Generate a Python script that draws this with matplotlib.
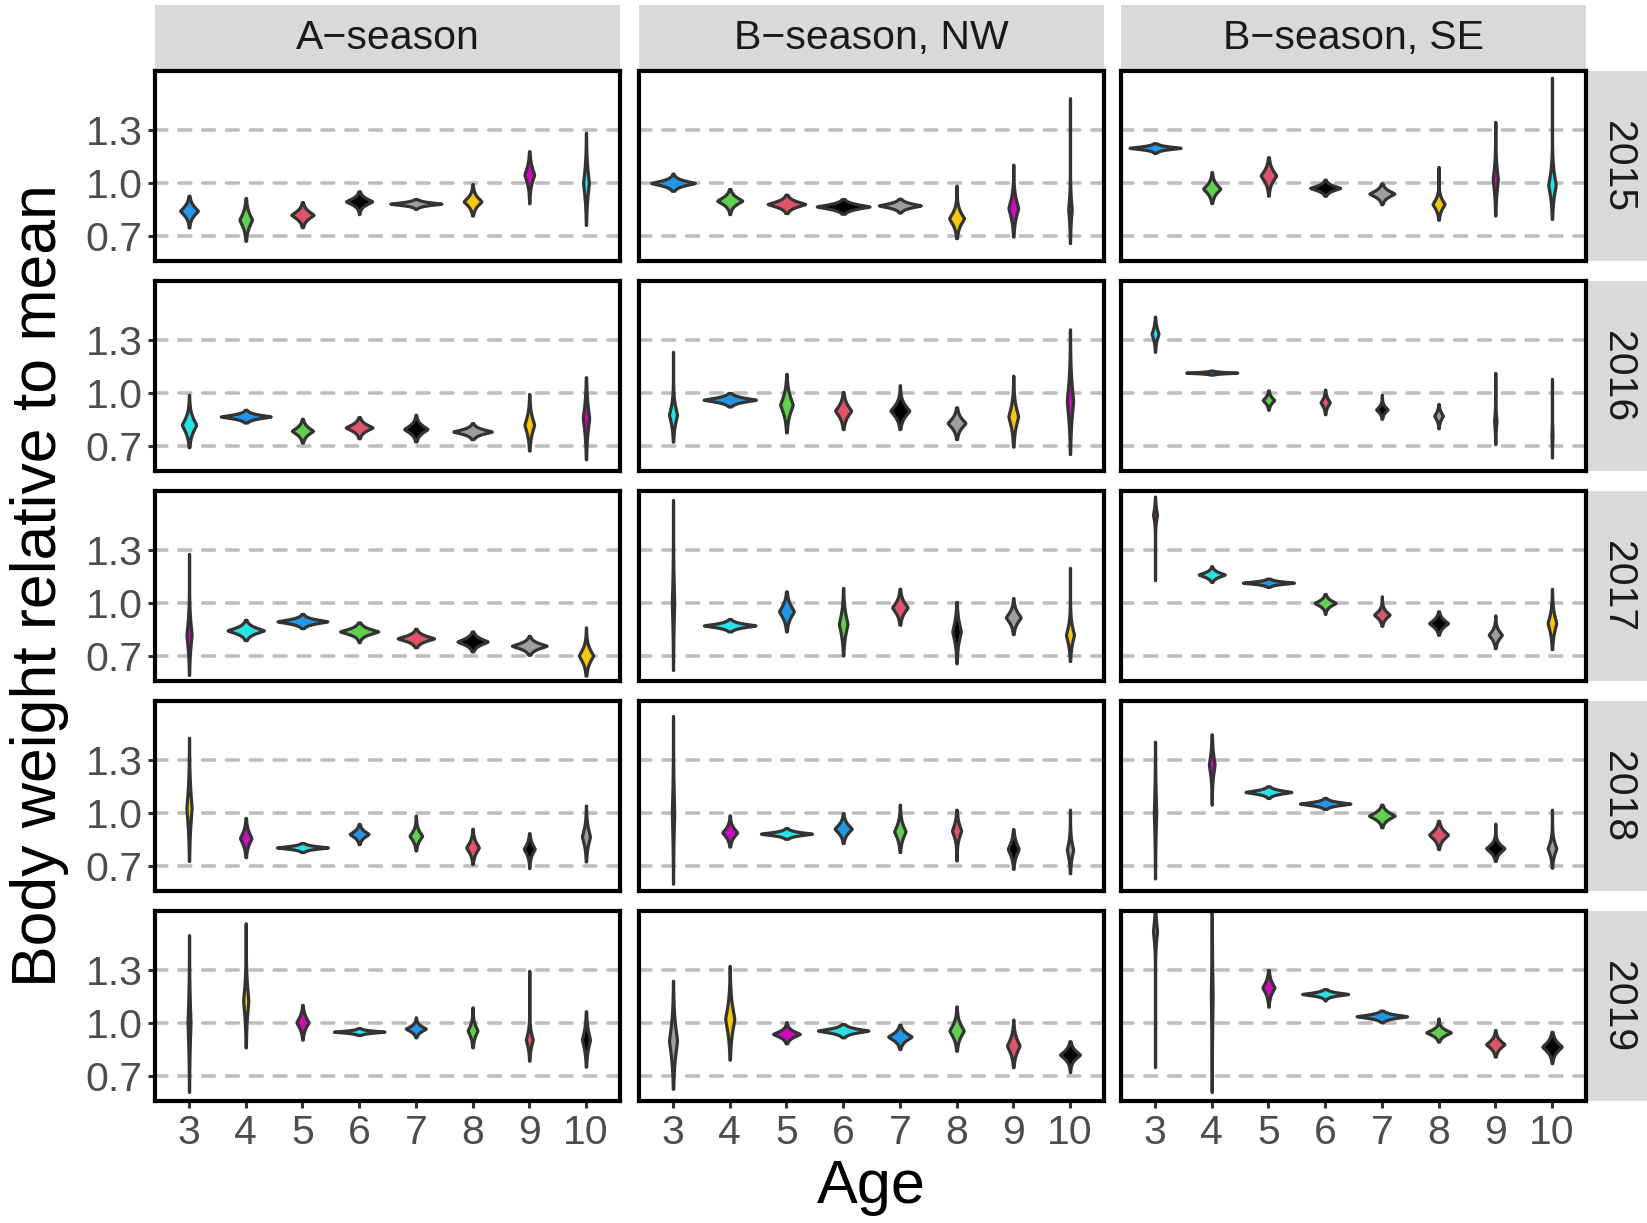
import numpy as np
import matplotlib
matplotlib.use("Agg")
import matplotlib.pyplot as plt
from matplotlib.patches import Rectangle

plt.rcParams["font.family"] = ["Liberation Sans", "DejaVu Sans"]

# ---------------- data ----------------
years = [2015, 2016, 2017, 2018, 2019]
seasons = ["A\u2212season", "B\u2212season, NW", "B\u2212season, SE"]
ages = [3, 4, 5, 6, 7, 8, 9, 10]
yticks = [0.7, 1.0, 1.3]
ytick_labels = ["0.7", "1.0", "1.3"]
# R default palette; colour index = (year - age - 2009) % 8  (cohort)
cohort_palette = ["#000000", "#DF536B", "#61D04F", "#2297E6",
                  "#28E2E5", "#CD0BBC", "#F5C710", "#9E9E9E"]

# A-season: rows = years 2015..2019, columns = ages 3..10
A_mid = [[0.843, 0.792, 0.820, 0.896, 0.883, 0.896, 1.047, 1.000],
         [0.820, 0.867, 0.786, 0.805, 0.796, 0.782, 0.820, 0.858],
         [0.820, 0.845, 0.896, 0.839, 0.800, 0.782, 0.758, 0.703],
         [1.028, 0.858, 0.805, 0.881, 0.871, 0.805, 0.797, 0.867],
         [1.000, 1.126, 1.004, 0.951, 0.968, 0.957, 0.906, 0.906]]
A_lo = [[0.748, 0.673, 0.750, 0.824, 0.854, 0.816, 0.885, 0.763],
        [0.693, 0.833, 0.720, 0.744, 0.726, 0.739, 0.674, 0.625],
        [0.593, 0.790, 0.858, 0.778, 0.750, 0.726, 0.707, 0.589],
        [0.729, 0.750, 0.779, 0.824, 0.788, 0.712, 0.688, 0.726],
        [0.610, 0.862, 0.906, 0.932, 0.919, 0.862, 0.787, 0.753]]
A_hi = [[0.928, 0.915, 0.892, 0.953, 0.909, 0.994, 1.180, 1.284],
        [0.990, 0.905, 0.854, 0.864, 0.877, 0.830, 0.994, 1.089],
        [1.278, 0.905, 0.938, 0.890, 0.854, 0.839, 0.814, 0.862],
        [1.426, 0.972, 0.830, 0.938, 0.985, 0.911, 0.886, 1.042],
        [1.497, 1.564, 1.102, 0.972, 1.032, 1.089, 1.296, 1.066]]
A_width = [[0.36, 0.27, 0.44, 0.51, 0.95, 0.36, 0.22, 0.15],
           [0.30, 0.93, 0.42, 0.52, 0.46, 0.73, 0.22, 0.16],
           [0.14, 0.69, 0.93, 0.72, 0.69, 0.58, 0.66, 0.30],
           [0.14, 0.25, 0.95, 0.38, 0.27, 0.27, 0.24, 0.19],
           [0.10, 0.14, 0.26, 0.94, 0.40, 0.22, 0.17, 0.19]]

# B-season, NW
NW_mid = [[1.000, 0.900, 0.881, 0.867, 0.873, 0.800, 0.858, 0.850],
          [0.877, 0.962, 0.934, 0.900, 0.900, 0.830, 0.867, 0.953],
          [1.000, 0.873, 0.953, 0.881, 0.975, 0.839, 0.919, 0.820],
          [1.000, 0.890, 0.883, 0.911, 0.896, 0.900, 0.797, 0.792],
          [0.900, 1.023, 0.938, 0.957, 0.923, 0.957, 0.872, 0.821]]
NW_lo = [[0.956, 0.824, 0.830, 0.826, 0.833, 0.688, 0.697, 0.660],
         [0.725, 0.924, 0.777, 0.796, 0.796, 0.739, 0.697, 0.655],
         [0.621, 0.839, 0.839, 0.703, 0.877, 0.659, 0.824, 0.672],
         [0.600, 0.810, 0.854, 0.830, 0.779, 0.731, 0.684, 0.659],
         [0.628, 0.793, 0.885, 0.919, 0.853, 0.843, 0.750, 0.722]]
NW_hi = [[1.053, 0.966, 0.934, 0.909, 0.911, 0.985, 1.104, 1.480],
         [1.233, 1.000, 1.108, 1.006, 1.044, 0.919, 1.098, 1.360],
         [1.583, 0.909, 1.066, 1.085, 1.081, 1.006, 1.028, 1.199],
         [1.549, 0.987, 0.915, 1.000, 1.047, 1.019, 0.909, 1.019],
         [1.239, 1.323, 1.004, 0.994, 0.990, 1.094, 1.019, 0.897]]
NW_width = [[0.82, 0.49, 0.71, 0.98, 0.79, 0.31, 0.22, 0.11],
            [0.19, 0.97, 0.27, 0.33, 0.38, 0.36, 0.22, 0.16],
            [0.09, 0.96, 0.31, 0.20, 0.32, 0.20, 0.31, 0.19],
            [0.09, 0.31, 0.95, 0.35, 0.25, 0.21, 0.24, 0.16],
            [0.19, 0.21, 0.52, 0.94, 0.46, 0.30, 0.27, 0.40]]

# B-season, SE
SE_mid = [[1.199, 0.968, 1.042, 0.972, 0.940, 0.881, 1.020, 0.990],
          [1.335, 1.115, 0.960, 0.947, 0.907, 0.871, 0.840, 0.760],
          [1.500, 1.161, 1.115, 1.000, 0.934, 0.886, 0.820, 0.886],
          [1.000, 1.274, 1.119, 1.053, 0.985, 0.877, 0.800, 0.800],
          [1.520, 1.150, 1.201, 1.164, 1.038, 0.947, 0.880, 0.866]]
SE_lo = [[1.170, 0.886, 0.928, 0.928, 0.880, 0.792, 0.816, 0.797],
         [1.233, 1.104, 0.905, 0.880, 0.854, 0.800, 0.710, 0.635],
         [1.129, 1.119, 1.091, 0.938, 0.871, 0.820, 0.744, 0.739],
         [0.630, 1.047, 1.085, 1.023, 0.919, 0.796, 0.729, 0.690],
         [0.750, 0.610, 1.092, 1.128, 1.004, 0.895, 0.810, 0.773]]
SE_hi = [[1.225, 1.062, 1.146, 1.019, 0.998, 1.091, 1.346, 1.596],
         [1.432, 1.127, 1.015, 1.019, 0.990, 0.938, 1.114, 1.080],
         [1.602, 1.208, 1.138, 1.051, 1.038, 0.953, 0.930, 1.080],
         [1.403, 1.445, 1.151, 1.085, 1.047, 0.956, 0.940, 1.019],
         [1.700, 1.700, 1.300, 1.192, 1.070, 1.026, 0.960, 0.950]]
SE_width = [[0.95, 0.35, 0.32, 0.58, 0.49, 0.26, 0.14, 0.18],
            [0.17, 0.95, 0.25, 0.21, 0.25, 0.20, 0.09, 0.07],
            [0.12, 0.51, 0.95, 0.42, 0.32, 0.38, 0.28, 0.20],
            [0.09, 0.15, 0.86, 0.94, 0.50, 0.38, 0.37, 0.20],
            [0.12, 0.08, 0.26, 0.86, 0.94, 0.48, 0.37, 0.39]]

panel_data = [(A_mid, A_lo, A_hi, A_width),
              (NW_mid, NW_lo, NW_hi, NW_width),
              (SE_mid, SE_lo, SE_hi, SE_width)]

# ---------------- layout ----------------
FW, FH = 1647, 1223
fig = plt.figure(figsize=(FW / 100, FH / 100), dpi=100)
fig.patch.set_facecolor("white")

col_left = [155, 639, 1121]
panel_w = 465
row_top0, row_step, panel_h = 71.3, 210, 190


def fbox(x0, y0, w, h):
    return [x0 / FW, 1 - (y0 + h) / FH, w / FW, h / FH]


SHAPE_P = 1.3


def vstats(c, lo, hi):
    # violin outline: peaked kernel profile between the observed min and max
    d = min(hi - c, c - lo)
    b = d / 2.8 ** (1 / SHAPE_P)
    ys = np.linspace(lo, hi, 400)
    dens = np.exp(-(np.abs(ys - c) / b) ** SHAPE_P)
    return dict(coords=ys, vals=dens, mean=c, median=c, min=lo, max=hi)


TICK_COLOR = "#333333"
LABEL_COLOR = "#4D4D4D"
STRIP_FILL = "#D9D9D9"
OUTLINE_PAD = 0.05

for r, year in enumerate(years):
    top = row_top0 + r * row_step
    for c, season in enumerate(seasons):
        mid, lo, hi, wid = [d[r] for d in panel_data[c]]
        ax = fig.add_axes(fbox(col_left[c], top, panel_w, panel_h))
        ax.set_xlim(2.4, 10.6)
        ax.set_ylim(0.557, 1.632)
        for v in yticks:
            ax.axhline(v, color="#BEBEBE", lw=2.6, dashes=(3.3, 3.3),
                       dash_capstyle="round", zorder=0.5)
        stats = [vstats(mid[i], lo[i], hi[i]) for i in range(len(ages))]
        widths = [max(w - OUTLINE_PAD, 0.02) for w in wid]
        parts = ax.violin(stats, positions=ages, widths=widths,
                          showmeans=False, showextrema=False, showmedians=False)
        for i, body in enumerate(parts["bodies"]):
            body.set_facecolor(cohort_palette[(year - ages[i] - 2009) % 8])
            body.set_edgecolor("#333333")
            body.set_linewidth(2.3)
            body.set_alpha(1)
            body.set_joinstyle("round")
            body.set_zorder(2)

        ax.set_xticks(ages)
        ax.set_xticklabels([str(a) for a in ages])
        ax.set_yticks(yticks)
        ax.set_yticklabels(ytick_labels)
        ax.tick_params(axis="both", colors=TICK_COLOR, labelcolor=LABEL_COLOR,
                       length=5, width=2.2, labelsize=29.5, pad=4)
        if c != 0:
            ax.tick_params(axis="y", left=False, labelleft=False)
        if r != len(years) - 1:
            ax.tick_params(axis="x", bottom=False, labelbottom=False)
        for s in ax.spines.values():
            s.set_linewidth(3.0)
            s.set_color("black")
            s.set_zorder(5)

        # top strips
        if r == 0:
            fig.add_artist(Rectangle((col_left[c] / FW, 1 - 71 / FH),
                                     panel_w / FW, 66 / FH,
                                     transform=fig.transFigure,
                                     facecolor=STRIP_FILL, edgecolor="none",
                                     zorder=0))
            fig.text((col_left[c] + panel_w / 2) / FW, 1 - 38 / FH, season,
                     ha="center", va="center", fontsize=29.5, color="#1A1A1A")
    # right strips
    fig.add_artist(Rectangle((1587 / FW, 1 - (top + panel_h) / FH),
                             (FW - 1587) / FW, panel_h / FH,
                             transform=fig.transFigure,
                             facecolor=STRIP_FILL, edgecolor="none", zorder=0))
    fig.text(1618 / FW, 1 - (top + panel_h / 2) / FH, str(year),
             ha="center", va="center", rotation=-90, fontsize=29.5, color="#1A1A1A")

fig.text(40 / FW, 1 - 586 / FH, "Body weight relative to mean", rotation=90,
         ha="center", va="center", fontsize=45, color="black")
fig.text(871 / FW, 1 - 1187 / FH, "Age", ha="center", va="center",
         fontsize=44, color="black")

fig.savefig("out.png", dpi=100, facecolor="white")
